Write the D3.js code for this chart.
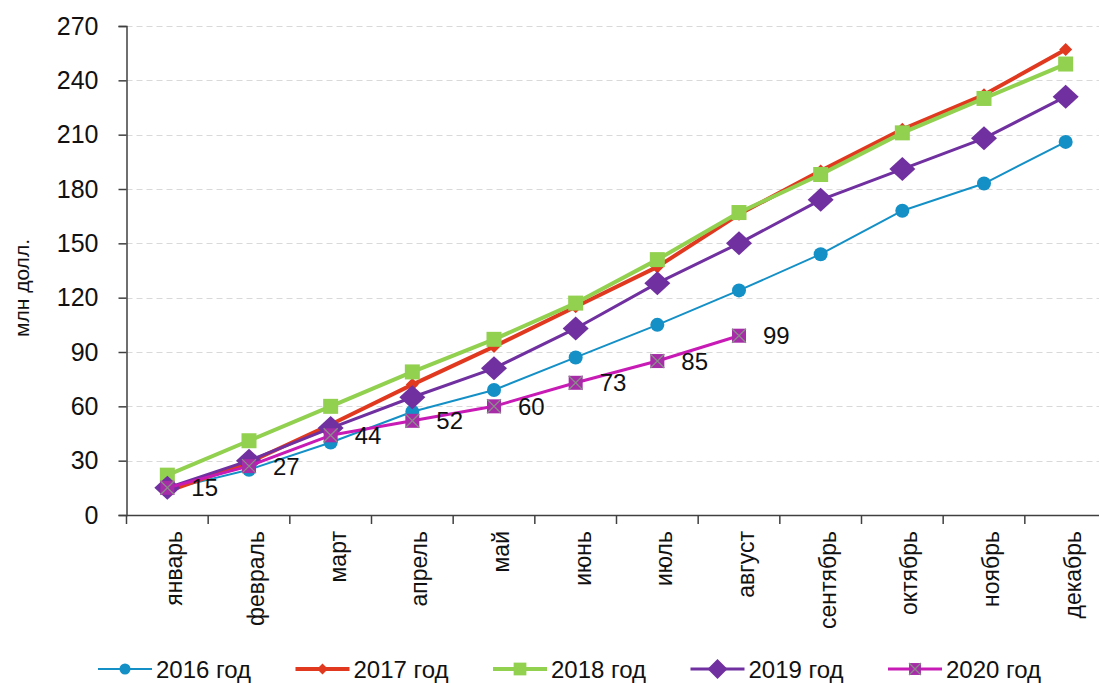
<!DOCTYPE html>
<html>
<head>
<meta charset="utf-8">
<script src="https://cdn.jsdelivr.net/npm/d3@7"></script>
<style>
  html, body { margin: 0; padding: 0; background: #fff; }
  svg { display: block; font-family: "Liberation Sans", Arial, sans-serif; }
</style>
</head>
<body>
<svg id="chart" width="1099" height="683"></svg>
<script>
const months = ["январь","февраль","март","апрель","май","июнь","июль","август","сентябрь","октябрь","ноябрь","декабрь"];
const yTicks = [0,30,60,90,120,150,180,210,240,270];
const seriesNames = ["2016 год","2017 год","2018 год","2019 год","2020 год"];
const values2016 = [14, 25, 40, 57, 69, 87, 105, 124, 144, 168, 183, 206];
const values2017 = [13, 29, 50, 72, 93, 115, 137, 166, 190, 213, 232, 257];
const values2018 = [22, 41, 60, 79, 97, 117, 141, 167, 188, 211, 230, 249];
const values2019 = [15, 30, 48, 65, 81, 103, 128, 150, 174, 191, 208, 231];
const values2020 = [15, 27, 44, 52, 60, 73, 85, 99];
const yAxisTitle = "млн долл.";

const seriesStyles = [
  {color:"#1490C6", width:2,   marker:"circle"},
  {color:"#E0391F", width:4,   marker:"smalldiamond"},
  {color:"#92D050", width:4,   marker:"square"},
  {color:"#7030A0", width:3,   marker:"diamond"},
  {color:"#C81AB5", width:3,   marker:"xsquare"}
];
const allValues = [values2016, values2017, values2018, values2019, values2020];

const svg = d3.select("#chart");
const plotLeft = 126.5, plotRight = 1106.5, plotTop = 26, plotBottom = 515;

const x = d3.scaleBand().domain(months).range([plotLeft, plotRight]).paddingInner(0).paddingOuter(0);
const y = d3.scaleLinear().domain([0, 270]).range([plotBottom, plotTop]);
const cx = m => x(m) + x.bandwidth() / 2;

// gridlines
svg.append("g").selectAll("line").data(yTicks.filter(d => d > 0)).join("line")
  .attr("x1", plotLeft).attr("x2", 1099)
  .attr("y1", d => Math.round(y(d)) + 0.5).attr("y2", d => Math.round(y(d)) + 0.5)
  .attr("stroke", "#d9d9d9").attr("stroke-width", 1.2).attr("stroke-dasharray", "6,4");

// y axis
const yAxis = d3.axisLeft(y).tickValues(yTicks).tickSize(8).tickPadding(20).tickFormat(d3.format("d"));
const gy = svg.append("g").attr("transform", `translate(${plotLeft},0)`).call(yAxis);
gy.select(".domain").attr("stroke", "#404040").attr("stroke-width", 1.5);
gy.selectAll(".tick line").attr("stroke", "#404040").attr("stroke-width", 1.5);
gy.selectAll(".tick text").attr("font-size", 25).attr("fill", "#111")
  .attr("font-family", "Liberation Sans, Arial, sans-serif");

// x axis
const xAxis = d3.axisBottom(x).tickSize(0).tickFormat("");
const gx = svg.append("g").attr("transform", `translate(0,${plotBottom})`).call(xAxis);
gx.select(".domain").attr("stroke", "#404040").attr("stroke-width", 1.5);
// tick marks at band boundaries
svg.append("g").selectAll("line").data(months).join("line")
  .attr("x1", d => x(d)).attr("x2", d => x(d))
  .attr("y1", plotBottom).attr("y2", plotBottom + 9)
  .attr("stroke", "#404040").attr("stroke-width", 1.5);
// category labels
svg.append("g").selectAll("text").data(months).join("text")
  .attr("transform", d => `translate(${cx(d) + 7},${plotBottom + 16}) rotate(-90)`)
  .attr("text-anchor", "end").attr("dy", "0.35em")
  .attr("font-size", 23).attr("fill", "#111")
  .text(d => d);

// y axis title
svg.append("text")
  .attr("transform", `translate(29,288) rotate(-90)`)
  .attr("text-anchor", "middle")
  .attr("font-size", 21).attr("fill", "#111")
  .text(yAxisTitle);

function drawMarker(g, type, color, px, py, legend) {
  const s = legend ? 0.85 : 1;
  if (type === "circle") {
    g.append("circle").attr("cx", px).attr("cy", py).attr("r", (legend ? 5.5 : 7) ).attr("fill", color);
  } else if (type === "smalldiamond") {
    const r = 6.5 * s;
    g.append("path").attr("d", `M${px},${py-r}L${px+r},${py}L${px},${py+r}L${px-r},${py}Z`).attr("fill", color);
  } else if (type === "square") {
    const r = 7.5 * s;
    g.append("rect").attr("x", px-r).attr("y", py-r).attr("width", 2*r).attr("height", 2*r).attr("fill", color);
  } else if (type === "diamond") {
    const rx = (legend ? 10 : 13), ry = (legend ? 10 : 12);
    g.append("path").attr("d", `M${px},${py-ry}L${px+rx},${py}L${px},${py+ry}L${px-rx},${py}Z`).attr("fill", color);
  } else if (type === "xsquare") {
    const r = 7 * s;
    g.append("rect").attr("x", px-r).attr("y", py-r).attr("width", 2*r).attr("height", 2*r).attr("fill", "#A62CA8");
    g.append("path").attr("d", `M${px-r},${py-r}L${px+r},${py+r}M${px+r},${py-r}L${px-r},${py+r}`)
      .attr("stroke", "#8a8a8a").attr("stroke-width", 1.3);
  }
}

// series
const line = d3.line().x(d => cx(d.m)).y(d => y(d.v));
allValues.forEach((vals, i) => {
  const st = seriesStyles[i];
  const pts = vals.map((v, j) => ({m: months[j], v}));
  const g = svg.append("g");
  g.append("path").datum(pts).attr("d", line).attr("fill", "none")
    .attr("stroke", st.color).attr("stroke-width", st.width).attr("stroke-linejoin", "round");
  pts.forEach(p => drawMarker(g, st.marker, st.color, cx(p.m), y(p.v), false));
});

// data labels for 2020
svg.append("g").selectAll("text").data(values2020.map((v, j) => ({m: months[j], v}))).join("text")
  .attr("x", d => cx(d.m) + 24).attr("y", d => y(d.v))
  .attr("dy", "0.36em").attr("font-size", 24).attr("fill", "#111")
  .text(d => d.v);

// legend
const legendX0 = 98, legendStep = 197.5, legendY = 669;
seriesNames.forEach((name, i) => {
  const st = seriesStyles[i];
  const g = svg.append("g");
  const x0 = legendX0 + i * legendStep;
  g.append("line").attr("x1", x0).attr("x2", x0 + 54).attr("y1", legendY).attr("y2", legendY)
    .attr("stroke", st.color).attr("stroke-width", st.width);
  drawMarker(g, st.marker, st.color, x0 + 27, legendY, true);
  g.append("text").attr("x", x0 + 58).attr("y", legendY).attr("dy", "0.36em")
    .attr("font-size", 24).attr("fill", "#111").text(name);
});
</script>
</body>
</html>
